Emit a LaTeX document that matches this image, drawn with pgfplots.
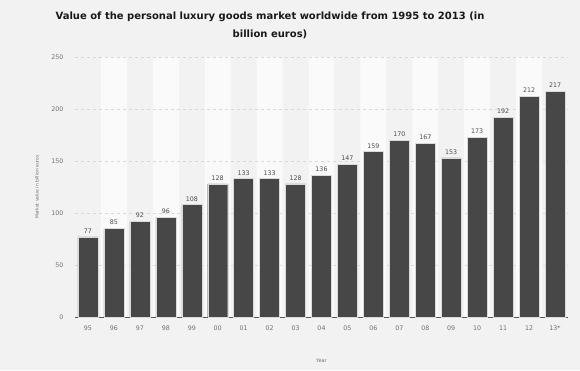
\documentclass[border=0pt]{standalone}
\usepackage{pgfplots}
\pgfplotsset{compat=1.18}
\usepackage{fontspec}
\setmainfont{DejaVu Sans}
\definecolor{bg}{HTML}{F2F2F2}
\definecolor{band}{HTML}{FAFAFA}
\definecolor{barc}{HTML}{474747}
\definecolor{tickc}{HTML}{707070}
\definecolor{gridc}{HTML}{D9D9D9}
\pgfplotsset{layers/bglayers/.define layer set={bgpic,axis background,axis grid,axis ticks,axis lines,axis tick labels,main,axis descriptions,axis foreground}{}}
\begin{document}
\begin{tikzpicture}
\begin{axis}[
  at={(75pt,53pt)}, anchor=south west, scale only axis,
  width=493pt, height=260pt,
  xmin=-0.5, xmax=18.5, ymin=0, ymax=250,
  clip=false,
  xtick={0,...,18},
  xticklabels={95,96,97,98,99,00,01,02,03,04,05,06,07,08,09,10,11,12,13*},
  ytick={0,50,100,150,200,250},
  axis x line*=bottom, axis y line*=left,
  y axis line style={draw=none},
  x axis line style={-, draw=black!65, line width=0.8pt},
  major tick length=0pt,
  ymajorgrids, grid style={dashed, draw=gridc, line width=0.5pt},
  /pgf/number format/assume math mode=true,
  tick label style={font=\fontsize{6.3}{7}\selectfont, text=tickc},
  xticklabel shift=5pt, yticklabel shift=8pt,
  xlabel={Year}, ylabel={Market value in billion euros},
  xlabel style={font=\fontsize{5}{6}\selectfont, text=tickc, at={(axis description cs:0.5,-0.169)}, anchor=center},
  ylabel style={font=\fontsize{4.5}{5}\selectfont, text=tickc, at={(axis description cs:-0.077,0.5)}, anchor=center},
  set layers=bglayers,
]
\begin{pgfonlayer}{bgpic}
\fill[bg] (rel axis cs:-0.15213,-0.20385) rectangle (rel axis cs:1.02434,1.21923);
\end{pgfonlayer}
\addplot[ybar, bar width=1, fill=band, draw=none, on layer=axis background]
  coordinates {(1,250) (3,250) (5,250) (7,250) (9,250) (11,250) (13,250) (15,250) (17,250)};
\addplot[ybar, bar width=20pt, fill=barc, draw=white!80!barc, line width=0.4pt,
  nodes near coords,
  every node near coord/.append style={font=\fontsize{6.3}{7}\selectfont, text=black!70, yshift=0pt}]
  coordinates {(0,77) (1,85) (2,92) (3,96) (4,108) (5,128) (6,133) (7,133) (8,128) (9,136)
    (10,147) (11,159) (12,170) (13,167) (14,153) (15,173) (16,192) (17,212) (18,217)};
\end{axis}
\node[font=\bfseries\fontsize{10}{18}\selectfont, align=center, text=black!90] at (270pt,345pt) {Value of the personal luxury goods market worldwide from 1995 to 2013 (in\\billion euros)};
\end{tikzpicture}
\end{document}
